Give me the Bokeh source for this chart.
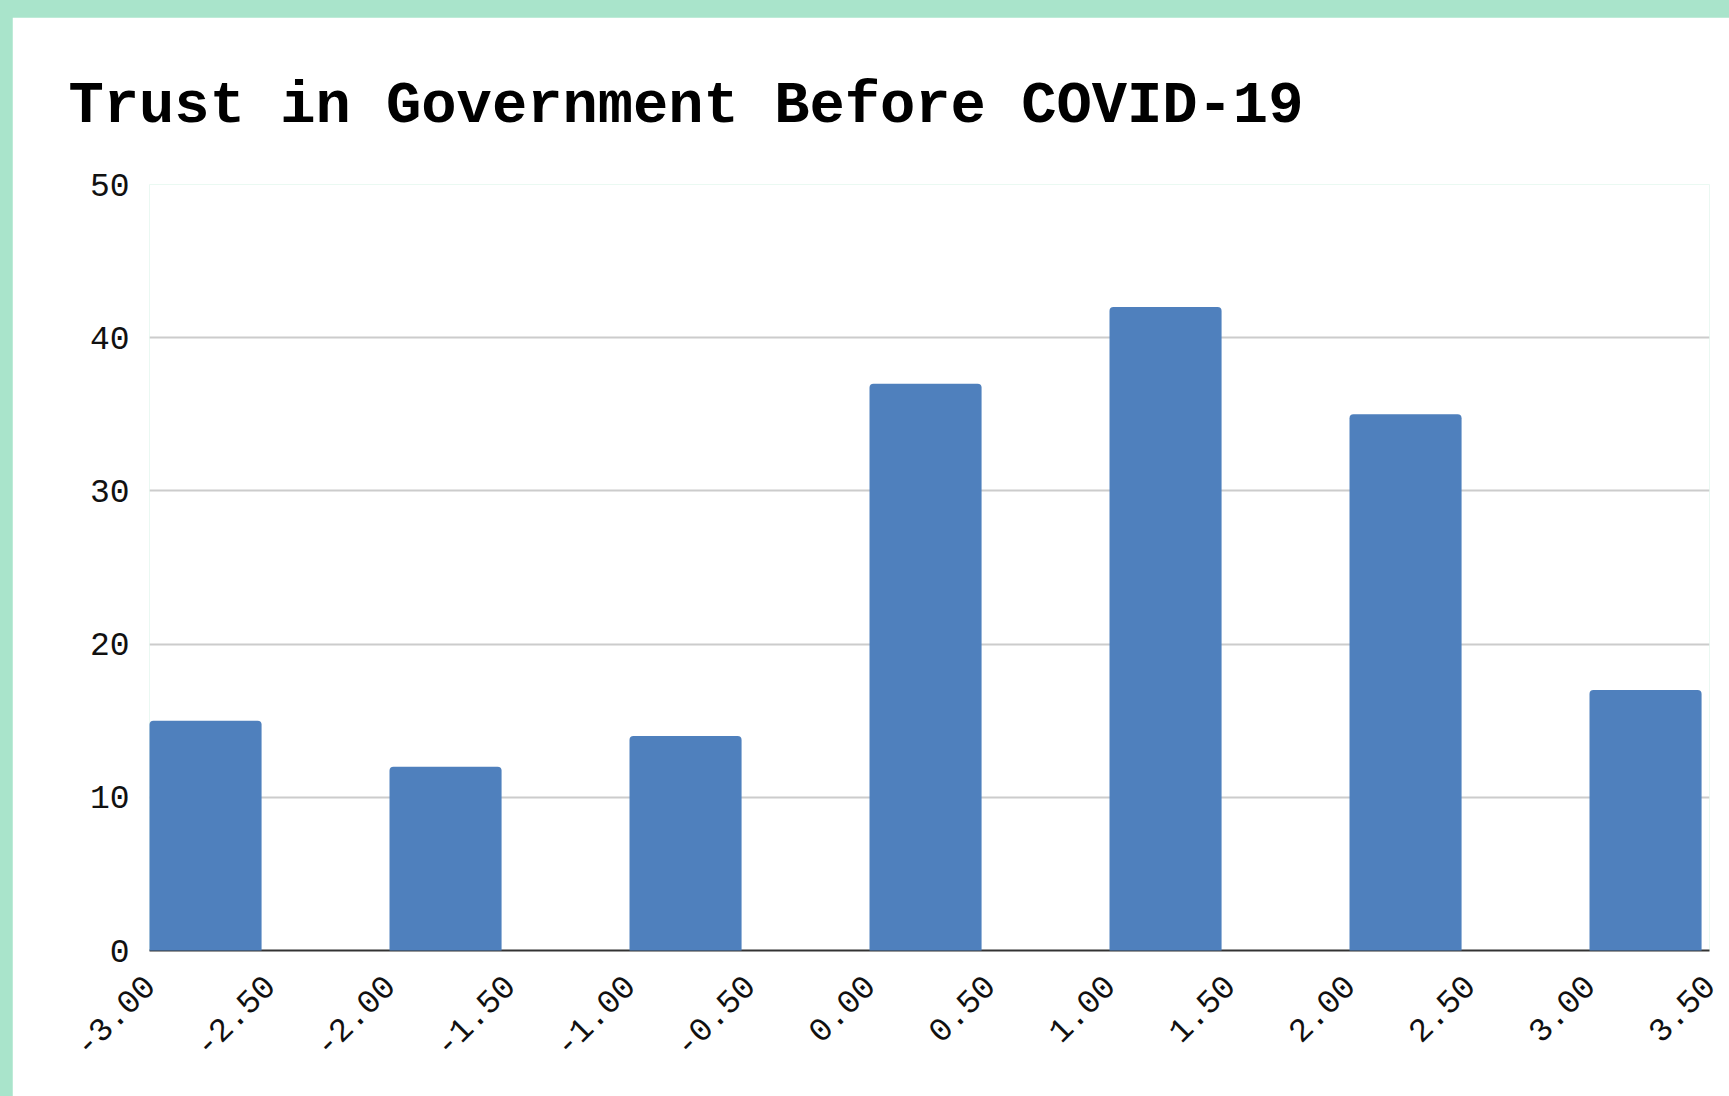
import math
from bokeh.plotting import figure
from bokeh.layouts import column
from bokeh.models import FixedTicker, CustomJSTickFormatter
from bokeh.embed import file_html
from bokeh.resources import INLINE

# ---- data ----
bin_starts = [-3.0, -2.0, -1.0, 0.0, 1.0, 2.0, 3.0]
counts = [15, 12, 14, 37, 42, 35, 17]
x_ticks = [-3.0, -2.5, -2.0, -1.5, -1.0, -0.5, 0.0, 0.5, 1.0, 1.5, 2.0, 2.5, 3.0, 3.5]
y_ticks = [0, 10, 20, 30, 40, 50]
title_text = "Trust in Government Before COVID-19"

BAR_W = 0.467
MINT = "#a9e4cb"
BLUE = "#4f80bd"
FONT = "Liberation Mono"

p = figure(
    width=1717, height=1079,
    x_range=(-3.0, 3.5), y_range=(0, 50),
    output_backend="svg", toolbar_location=None,
    min_border_left=137, min_border_right=20,
    min_border_top=167, min_border_bottom=146,
    background_fill_color="white", border_fill_color="white",
    outline_line_color=None,
    margin=(17, 0, 0, 12),
)

p.title.text = title_text
p.title.text_font = FONT
p.title.text_font_style = "bold"
p.title.text_font_size = "58.8px"
p.title.text_color = "#000000"
p.title.align = "left"
p.title.offset = -81
p.title.standoff = 89

centers = [s + BAR_W / 2 for s in bin_starts]
r = p.vbar(x=centers, top=counts, bottom=0, width=BAR_W,
           fill_color=BLUE, line_color=None, border_radius=(4, 4, 0, 0))
r.level = "overlay"

# x axis
xa = p.xaxis[0]
xa.ticker = FixedTicker(ticks=x_ticks)
xa.formatter = CustomJSTickFormatter(code="return tick.toFixed(2);")
xa.major_label_orientation = math.pi / 4
xa.major_label_text_font = FONT
xa.major_label_text_font_size = "33px"
xa.major_label_text_color = "#111111"
xa.axis_line_color = "#333333"
xa.axis_line_width = 2
xa.major_tick_line_color = None
xa.minor_tick_line_color = None
xa.major_label_standoff = 24

# y axis
ya = p.yaxis[0]
ya.ticker = FixedTicker(ticks=y_ticks)
ya.major_label_text_font = FONT
ya.major_label_text_font_size = "33px"
ya.major_label_text_color = "#111111"
ya.axis_line_color = None
ya.major_tick_line_color = None
ya.minor_tick_line_color = None
ya.major_label_standoff = 14

p.xgrid.grid_line_color = None
p.ygrid.grid_line_color = "#cccccc"
p.ygrid.grid_line_width = 2

layout = column(p, styles={"background-color": MINT}, width=1729, height=1096)

open("out.html", "w").write(file_html(layout, INLINE))
